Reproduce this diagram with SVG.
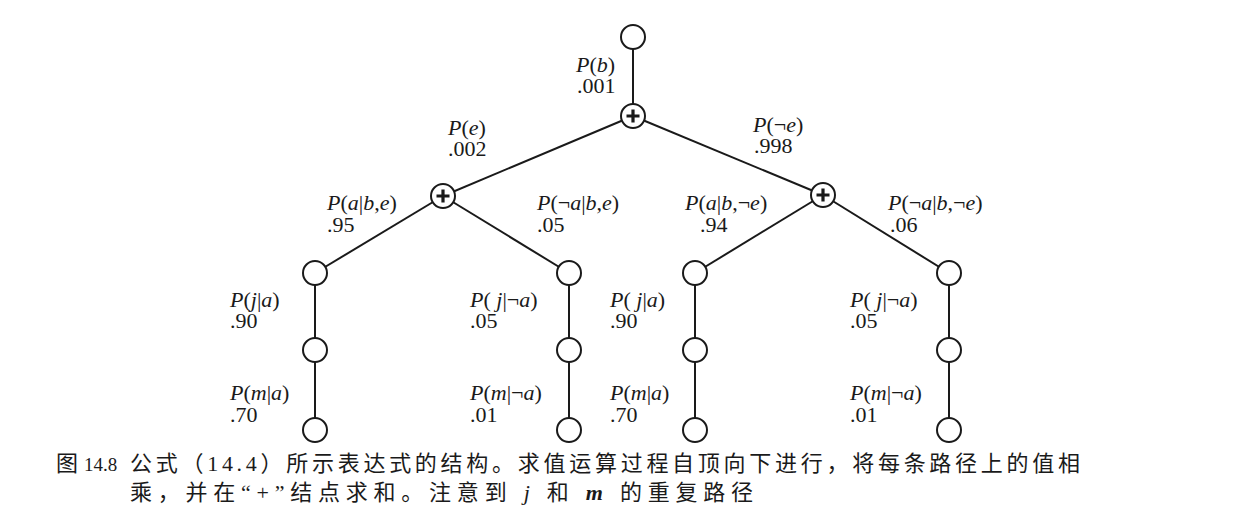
<svg xmlns="http://www.w3.org/2000/svg" width="1239" height="527" viewBox="0 0 1239 527">
<style>
.e{stroke:#1a1a1a;stroke-width:2;fill:none}
.n{fill:#fff;stroke:#1a1a1a;stroke-width:2}
.pl{stroke:#1a1a1a;stroke-width:3.2;stroke-linecap:butt}
.t{font-family:"Liberation Serif",serif;font-size:22px;fill:#1a1a1a}
.i{font-style:italic}
.c{font-family:"Liberation Serif","Noto Sans CJK SC",serif;font-size:22px;fill:#1a1a1a}
</style>
<defs>
<g id="plus"><circle r="12" class="n"/><path class="pl" d="M-6.5 0H6.5M0 -6.5V6.5"/></g>
</defs>
<rect width="1239" height="527" fill="#fff"/>
<g id="connectors">
<line class="e" x1="633" y1="37" x2="633" y2="116"/>
<line class="e" x1="633" y1="116" x2="443" y2="196"/>
<line class="e" x1="633" y1="116" x2="823" y2="195"/>
<line class="e" x1="443" y1="196" x2="315" y2="273"/>
<line class="e" x1="443" y1="196" x2="569" y2="273"/>
<line class="e" x1="823" y1="195" x2="695" y2="273"/>
<line class="e" x1="823" y1="195" x2="949" y2="273"/>
<line class="e" x1="315" y1="273" x2="315" y2="430"/>
<line class="e" x1="569" y1="273" x2="569" y2="430"/>
<line class="e" x1="695" y1="273" x2="695" y2="430"/>
<line class="e" x1="949" y1="273" x2="949" y2="430"/>
</g>
<g id="root"><circle class="n" cx="633" cy="37" r="12"/></g>
<g id="sum-b"><use href="#plus" x="633" y="116"/></g>
<g id="sum-e"><use href="#plus" x="443" y="196"/></g>
<g id="sum-not-e"><use href="#plus" x="823" y="195"/></g>
<g id="a-e"><circle class="n" cx="315" cy="273" r="12"/></g>
<g id="nota-e"><circle class="n" cx="569" cy="273" r="12"/></g>
<g id="a-note"><circle class="n" cx="695" cy="273" r="12"/></g>
<g id="nota-note"><circle class="n" cx="949" cy="273" r="12"/></g>
<g id="j1"><circle class="n" cx="315" cy="350" r="12"/></g>
<g id="j2"><circle class="n" cx="569" cy="350" r="12"/></g>
<g id="j3"><circle class="n" cx="695" cy="350" r="12"/></g>
<g id="j4"><circle class="n" cx="949" cy="350" r="12"/></g>
<g id="m1"><circle class="n" cx="315" cy="430" r="12"/></g>
<g id="m2"><circle class="n" cx="569" cy="430" r="12"/></g>
<g id="m3"><circle class="n" cx="695" cy="430" r="12"/></g>
<g id="m4"><circle class="n" cx="949" cy="430" r="12"/></g>
<g id="labels">
<text class="t" x="576" y="72"><tspan class="i">P</tspan>(<tspan class="i">b</tspan>)</text>
<text class="t" x="577" y="93">.001</text>
<text class="t" x="448" y="135"><tspan class="i">P</tspan>(<tspan class="i">e</tspan>)</text>
<text class="t" x="448" y="156">.002</text>
<text class="t" x="753" y="132"><tspan class="i">P</tspan>(¬<tspan class="i">e</tspan>)</text>
<text class="t" x="754" y="153">.998</text>
<text class="t" x="327" y="210"><tspan class="i">P</tspan>(<tspan class="i">a</tspan>|<tspan class="i">b</tspan>,<tspan class="i">e</tspan>)</text>
<text class="t" x="327" y="232">.95</text>
<text class="t" x="537" y="210"><tspan class="i">P</tspan>(¬<tspan class="i">a</tspan>|<tspan class="i">b</tspan>,<tspan class="i">e</tspan>)</text>
<text class="t" x="537" y="232">.05</text>
<text class="t" x="685" y="210"><tspan class="i">P</tspan>(<tspan class="i">a</tspan>|<tspan class="i">b</tspan>,¬<tspan class="i">e</tspan>)</text>
<text class="t" x="700" y="232">.94</text>
<text class="t" x="888" y="210"><tspan class="i">P</tspan>(¬<tspan class="i">a</tspan>|<tspan class="i">b</tspan>,¬<tspan class="i">e</tspan>)</text>
<text class="t" x="890" y="232">.06</text>
<text class="t" x="230" y="307"><tspan class="i">P</tspan>(<tspan class="i">j</tspan>|<tspan class="i">a</tspan>)</text>
<text class="t" x="230" y="328">.90</text>
<text class="t" x="230" y="400"><tspan class="i">P</tspan>(<tspan class="i">m</tspan>|<tspan class="i">a</tspan>)</text>
<text class="t" x="230" y="422">.70</text>
<text class="t" x="470" y="307"><tspan class="i">P</tspan>( <tspan class="i">j</tspan>|¬<tspan class="i">a</tspan>)</text>
<text class="t" x="470" y="328">.05</text>
<text class="t" x="470" y="400"><tspan class="i">P</tspan>(<tspan class="i">m</tspan>|¬<tspan class="i">a</tspan>)</text>
<text class="t" x="470" y="422">.01</text>
<text class="t" x="610" y="307"><tspan class="i">P</tspan>( <tspan class="i">j</tspan>|<tspan class="i">a</tspan>)</text>
<text class="t" x="610" y="328">.90</text>
<text class="t" x="610" y="400"><tspan class="i">P</tspan>(<tspan class="i">m</tspan>|<tspan class="i">a</tspan>)</text>
<text class="t" x="610" y="422">.70</text>
<text class="t" x="850" y="307"><tspan class="i">P</tspan>( <tspan class="i">j</tspan>|¬<tspan class="i">a</tspan>)</text>
<text class="t" x="850" y="328">.05</text>
<text class="t" x="850" y="400"><tspan class="i">P</tspan>(<tspan class="i">m</tspan>|¬<tspan class="i">a</tspan>)</text>
<text class="t" x="850" y="422">.01</text>
</g>
<g id="caption">
<text class="c" x="56" y="471">图</text>
<text class="c" x="84" y="471" style="font-size:19px">14.8</text>
<text class="c" x="130" y="471" textLength="950" lengthAdjust="spacing">公式（14.4）所示表达式的结构。求值运算过程自顶向下进行，将每条路径上的值相</text>
<text class="c" x="130" y="500" textLength="623" lengthAdjust="spacing">乘，并在“+”结点求和。注意到 <tspan font-style="italic">j</tspan> 和 <tspan font-weight="bold" font-style="italic">m</tspan> 的重复路径</text>
</g>
</svg>
